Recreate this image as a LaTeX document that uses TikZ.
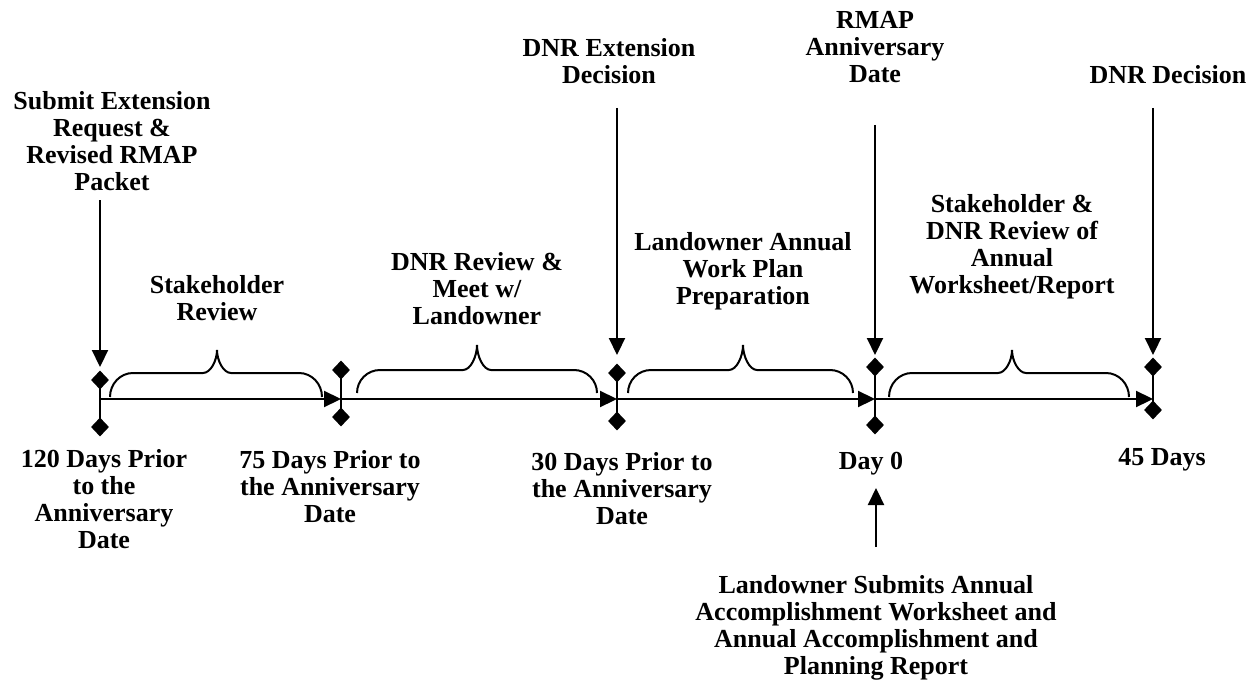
\documentclass[tikz,border=0pt]{standalone}
\usepackage{fontspec}
\setmainfont{Liberation Serif}
\usetikzlibrary{arrows.meta,shapes.geometric}
\newcommand\mybrace[6]{% x1, x2, xm, bottom, top, tip
  \draw[bracestyle] (#1,#4)
    .. controls (#1,{#4-0.552*(#4-#5)}) and ({#1+23-0.552*23},#5) .. ({#1+23},#5)
    -- ({#3-14},#5)
    .. controls ({#3-14+0.552*14},#5) and (#3,{#5-0.552*(#5-#6)}) .. (#3,#6)
    .. controls (#3,{#5-0.552*(#5-#6)}) and ({#3+14-0.552*14},#5) .. ({#3+14},#5)
    -- ({#2-23},#5)
    .. controls ({#2-23+0.552*23},#5) and (#2,{#4-0.552*(#4-#5)}) .. (#2,#4);}
\begin{document}
\begin{tikzpicture}[x=1pt,y=-1pt,
  lbl/.style={align=center,inner sep=0pt,font=\fontsize{26}{27}\selectfont\bfseries},
  arr/.style={line width=2.2pt,-{Triangle[length=17pt,width=16pt]}},
  tickline/.style={line width=2.6pt},
  dmd/.style={diamond,fill=black,inner sep=0pt,minimum width=18pt,minimum height=19pt},
  bracestyle/.style={line width=2pt}]
\useasboundingbox (0,0) rectangle (1252,690);
% timeline points
\coordinate (p1) at (100,399);
\coordinate (p2) at (341,399);
\coordinate (p3) at (617,399);
\coordinate (p4) at (875,399);
\coordinate (p5) at (1153,399);
% tick diamonds
\node[dmd] (t1u) at (100,380) {};
\node[dmd] (t1d) at (100,427) {};
\node[dmd] (t2u) at (341,370) {};
\node[dmd] (t2d) at (341,417) {};
\node[dmd] (t3u) at (617,373) {};
\node[dmd] (t3d) at (617,421) {};
\node[dmd] (t4u) at (875,367) {};
\node[dmd] (t4d) at (875,425) {};
\node[dmd] (t5u) at (1153,367) {};
\node[dmd] (t5d) at (1153,410) {};
\draw[tickline] (t1u.center) -- (t1d.center);
\draw[tickline] (t2u.center) -- (t2d.center);
\draw[tickline] (t3u.center) -- (t3d.center);
\draw[tickline] (t4u.center) -- (t4d.center);
\draw[tickline] (t5u.center) -- (t5d.center);
% segments
\draw[arr] (p1) -- (p2);
\draw[arr] (p2) -- (p3);
\draw[arr] (p3) -- (p4);
\draw[arr] (p4) -- (p5);
% braces
\mybrace{110}{322}{217}{397}{373}{350}
\mybrace{357}{597}{477}{393}{370}{345}
\mybrace{628}{853}{743}{393}{370}{345}
\mybrace{889}{1129}{1012}{397}{373}{350}
% top labels
\node[lbl] (sub) at (112,141) {Submit Extension\\Request \&\\Revised RMAP\\Packet};
\node[lbl] (dnrext) at (609,61.5) {DNR Extension\\Decision};
\node[lbl] (rmap) at (875,47) {RMAP\\Anniversary\\Date};
\node[lbl] (dnrdec) at (1168,75) {DNR Decision};
% brace labels
\node[lbl] (stk) at (217,298.5) {Stakeholder\\Review};
\node[lbl] (dnrrev) at (477,288.5) {DNR Review \&\\Meet w/\\Landowner};
\node[lbl] (lwp) at (743,271) {Landowner Annual\\Work Plan\\Preparation};
\node[lbl] (sdr) at (1012,247) {Stakeholder \&\\DNR Review of\\Annual\\Worksheet/Report};
% bottom labels
\node[lbl] (d120) at (104,499) {120 Days Prior\\to the\\Anniversary\\Date};
\node[lbl] (d75) at (330,487) {75 Days Prior to\\the Anniversary\\Date};
\node[lbl] (d30) at (622,489) {30 Days Prior to\\the Anniversary\\Date};
\node[lbl] (day0) at (871,464) {Day 0};
\node[lbl] (d45) at (1162,460) {45 Days};
\node[lbl] (lsub) at (876,628) {Landowner Submits Annual\\Accomplishment Worksheet and\\Annual Accomplishment and\\Planning Report};
% arrow ends
\coordinate (a1s) at (100,200);
\coordinate (a1e) at (100,367);
\coordinate (a3s) at (617,108);
\coordinate (a3e) at (617,355);
\coordinate (a4s) at (875,125);
\coordinate (a4e) at (875,355);
\coordinate (a5s) at (1153,108);
\coordinate (a5e) at (1153,355);
\coordinate (a6s) at (876,547);
\coordinate (a6e) at (876,488);
\draw[arr] (a1s) -- (a1e);
\draw[arr] (a3s) -- (a3e);
\draw[arr] (a4s) -- (a4e);
\draw[arr] (a5s) -- (a5e);
\draw[arr] (a6s) -- (a6e);
\end{tikzpicture}
\end{document}
